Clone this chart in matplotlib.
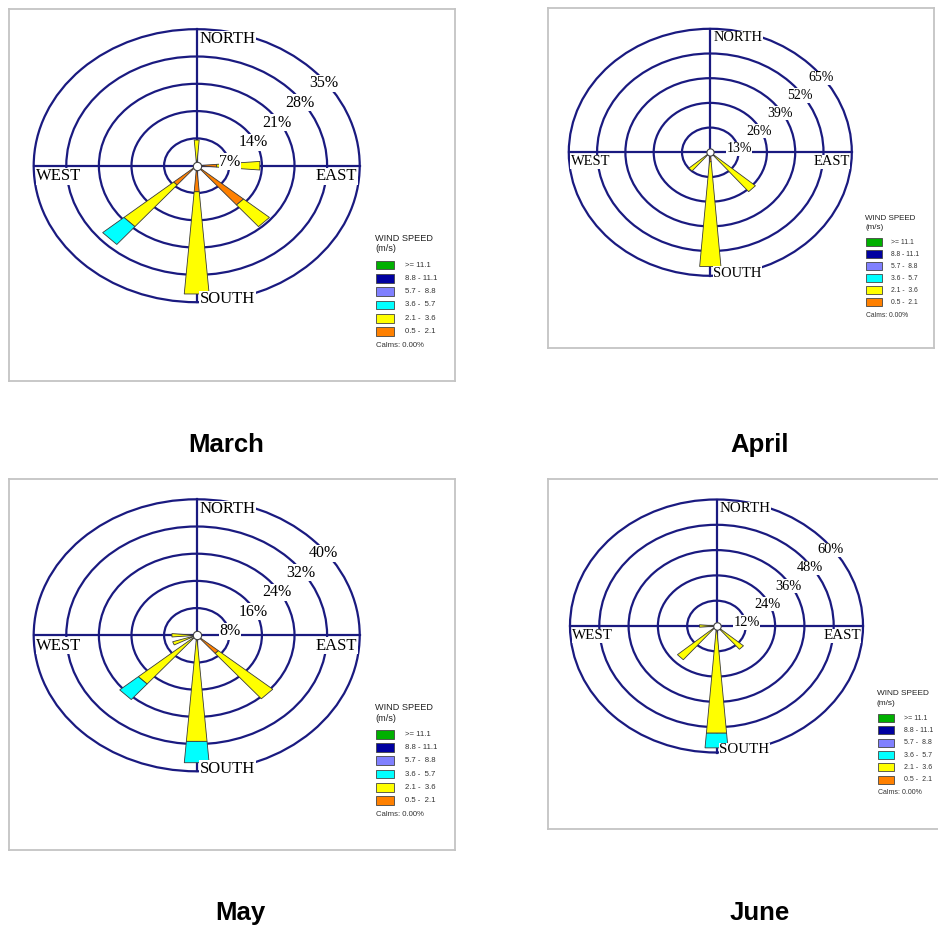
import numpy as np
import matplotlib.pyplot as plt
from matplotlib.patches import Polygon, Circle, Rectangle

# ---- data -------------------------------------------------------------
months = ["March", "April", "May", "June"]
ring_steps = [7, 13, 8, 12]          # % per ring

compass = {"N": 0, "NNE": 22.5, "NE": 45, "ENE": 67.5, "E": 90, "ESE": 112.5,
           "SE": 135, "SSE": 157.5, "S": 180, "SSW": 202.5, "SW": 225,
           "WSW": 247.5, "W": 270, "WNW": 292.5, "NW": 315, "NNW": 337.5}

speed_labels = [">= 11.1", "8.8 - 11.1", "5.7 -  8.8", "3.6 -  5.7", "2.1 -  3.6", "0.5 -  2.1"]
speed_colors = ["#00b000", "#0000a0", "#8080ff", "#00ffff", "#ffff00", "#ff8000"]

# frequency (%) by direction for the 0.5-2.1, 2.1-3.6 and 3.6-5.7 m/s classes
march_dirs = ["N", "E", "SE", "S", "SW"]
march_low = [0.0, 4.3, 13.2, 6.7, 6.5]
march_mid = [6.6, 9.3, 7.3, 26.3, 14.0]
march_high = [0.0, 0.0, 0.0, 0.0, 6.0]

april_dirs = ["SE", "S", "SW"]
april_low = [0.0, 5.0, 0.0]
april_mid = [27.2, 55.3, 12.9]
april_high = [0.0, 0.0, 0.0]

may_dirs = ["SE", "S", "SW", "WSW", "W"]
may_low = [7.0, 0.0, 0.0, 0.0, 0.0]
may_mid = [17.5, 31.3, 18.8, 6.2, 6.1]
may_high = [0.0, 6.3, 6.0, 0.0, 0.0]

june_dirs = ["SE", "S", "SW", "W"]
june_low = [0.0, 0.0, 0.0, 1.5]
june_mid = [14.5, 51.0, 21.0, 5.5]
june_high = [0.0, 7.0, 0.0, 0.0]

rose_data = [
    (march_dirs, [march_low, march_mid, march_high]),
    (april_dirs, [april_low, april_mid, april_high]),
    (may_dirs, [may_low, may_mid, may_high]),
    (june_dirs, [june_low, june_mid, june_high]),
]
class_colors = ["#ff8000", "#ffff00", "#00ffff"]

# panel layout in pixels: rose centre, px per ring (x, y), frame box, caption point
layout = [
    dict(cx=196.7, cy=165.7, hx=32.6, hy=27.3, box=(9, 9, 455, 381), cap=(226, 452)),
    dict(cx=710.3, cy=152.3, hx=28.3, hy=24.7, box=(548, 8, 934, 348), cap=(760, 452)),
    dict(cx=196.7, cy=635.3, hx=32.6, hy=27.2, box=(9, 479, 455, 850), cap=(240, 920)),
    dict(cx=716.5, cy=626.0, hx=29.3, hy=25.3, box=(548, 479, 950, 829), cap=(760, 920)),
]

NAVY = "#1a1a80"
HALF_W = 4.65  # half angular width of a petal (deg)
W, H = 938, 926

fig = plt.figure(figsize=(W / 100, H / 100), dpi=100)


def polar(r, ang):
    t = np.radians(ang)
    return r * np.sin(t), r * np.cos(t)


def draw_rose(ax, step, dirs, classes, sc):
    # rings and axes
    for k in range(1, 6):
        ax.add_patch(Circle((0, 0), k * step, fill=False, ec=NAVY, lw=1.6, zorder=1))
    ax.plot([-5 * step, 5 * step], [0, 0], color=NAVY, lw=1.6, zorder=1)
    ax.plot([0, 0], [-5 * step, 5 * step], color=NAVY, lw=1.6, zorder=1)

    # petals, stacked by speed class
    for i, d in enumerate(dirs):
        a = compass[d]
        r0 = 0.0
        for vals, col in zip(classes, class_colors):
            v = vals[i]
            if v <= 0:
                continue
            r1 = r0 + v
            pts = [polar(r0, a - HALF_W), polar(r1, a - HALF_W),
                   polar(r1, a + HALF_W), polar(r0, a + HALF_W)]
            ax.add_patch(Polygon(pts, closed=True, fc=col, ec="#3a3a3a", lw=0.6, zorder=2))
            r0 = r1
    ax.plot(0, 0, "o", ms=6 * sc, mfc="white", mec="#404040", mew=0.8, zorder=3)

    # ring percentages
    box = dict(fc="white", ec="none", pad=0.4)
    for k in range(1, 6):
        ax.text((0.3 + 0.72 * k) * step, (-0.58 + 0.72 * k) * step, f"{step * k}%",
                ha="center", va="center", fontsize=11.5 * sc, family="Liberation Serif",
                bbox=box, zorder=4)

    # compass names
    df = dict(fontsize=12 * sc, family="Liberation Serif", bbox=box, zorder=4, va="center")
    ax.text(0.1 * step, 4.64 * step, "NORTH", ha="left", **df)
    ax.text(0.1 * step, -4.9 * step, "SOUTH", ha="left", **df)
    ax.text(-4.92 * step, -0.39 * step, "WEST", ha="left", **df)
    ax.text(4.92 * step, -0.39 * step, "EAST", ha="right", **df)

    # speed legend
    ax.text(5.47 * step, -2.66 * step, "WIND SPEED", fontsize=6.6 * sc,
            family="Liberation Sans", ha="left", va="center", color="#222222")
    ax.text(5.47 * step, -3.05 * step, "(m/s)", fontsize=6.6 * sc,
            family="Liberation Sans", ha="left", va="center", color="#222222")
    for j, (lab, col) in enumerate(zip(speed_labels, speed_colors)):
        yc = -3.64 - 0.487 * j
        ax.add_patch(Rectangle((5.5 * step, (yc - 0.16) * step), 0.55 * step, 0.32 * step,
                               fc=col, ec="#444444", lw=0.6, zorder=2))
        ax.text(6.39 * step, yc * step, lab, fontsize=5.6 * sc, family="Liberation Sans",
                ha="left", va="center", color="#333333")
    ax.text(5.5 * step, -6.6 * step, "Calms: 0.00%", fontsize=5.6 * sc,
            family="Liberation Sans", ha="left", va="center", color="#333333")


for name, step, (dirs, classes), lay in zip(months, ring_steps, rose_data, layout):
    left, top, right, bottom = lay["box"]
    ax = fig.add_axes([left / W, 1 - bottom / H, (right - left) / W, (bottom - top) / H])
    ax.set_xlim((left - lay["cx"]) / lay["hx"] * step, (right - lay["cx"]) / lay["hx"] * step)
    ax.set_ylim((lay["cy"] - bottom) / lay["hy"] * step, (lay["cy"] - top) / lay["hy"] * step)
    ax.set_xticks([])
    ax.set_yticks([])
    for s in ax.spines.values():
        s.set_color("#c4c4c4")
        s.set_linewidth(1.3)
    draw_rose(ax, step, dirs, classes, lay["hx"] / 32.6)

    fig.text(lay["cap"][0] / W, 1 - lay["cap"][1] / H, name, ha="center", va="baseline",
             fontsize=18.5, fontweight="bold", family="Liberation Sans")

fig.savefig("out.png", dpi=100, facecolor="white")
